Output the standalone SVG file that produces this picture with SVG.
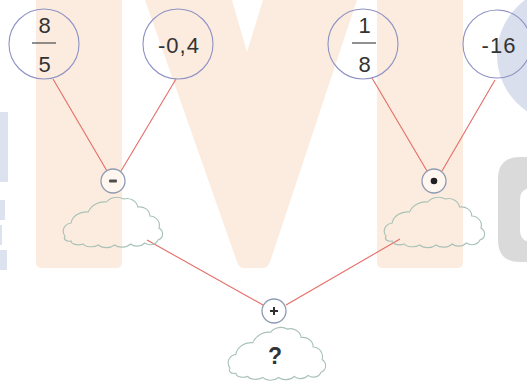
<svg xmlns="http://www.w3.org/2000/svg" xmlns:xlink="http://www.w3.org/1999/xlink" width="527" height="386" viewBox="0 0 527 386">
<style>
.wm-o{fill:#fcecdf}
.wm-b{fill:#dde3ee}
.wm-g{fill:#dadada}
.num{fill:none;stroke:#8e92c4;stroke-width:1.1}
.op{fill:#ffffff;fill-opacity:0.5;stroke:#8f9bb3;stroke-width:1.3}
.cloud{fill:none;stroke:#a9c2b6;stroke-width:1.1}
.edge{stroke:#e46c66;stroke-width:1.1;fill:none}
.t{font-family:"Liberation Sans",Arial,sans-serif;font-size:22px;fill:#333333;text-anchor:middle;letter-spacing:1px}
.bar{stroke:#555;stroke-width:1.3}
</style>
<defs>
<path id="cloudShape" d="M 3 40 C -1 35, 2 28, 9 27 C 10 20, 18 15, 26 16 C 29 9, 37 5, 44 6 C 48 1, 56 0, 61 3 C 67 1, 74 5, 75 11 C 81 10, 87 14, 87 20 C 93 20, 98 26, 96 32 C 101 35, 101 42, 95 44 C 93 49, 86 50, 82 47 C 78 51, 71 51, 68 48 C 64 52, 56 52, 52 49 C 47 53, 39 52, 36 49 C 31 52, 23 51, 21 48 C 15 50, 9 48, 9 45 C 4 46, 1 43, 3 40 Z"/>
</defs>
<rect width="527" height="386" fill="#ffffff"/>
<g id="watermark">
<path class="wm-o" d="M36 0 H122 V262 Q122 268 116 268 H42 Q36 268 36 262 Z"/>
<path class="wm-o" d="M145 0 H232 L247 52 L263 0 H357 L270 262 Q268 268 262 268 H244 Q239 268 237 262 Z"/>
<path class="wm-o" d="M377 0 H463 V262 Q463 268 457 268 H383 Q377 268 377 262 Z"/>
<rect class="wm-b" x="0" y="112" width="8" height="70"/>
<rect class="wm-b" x="0" y="200" width="5" height="20"/>
<rect class="wm-b" x="0" y="225" width="2" height="20"/>
<rect class="wm-b" x="0" y="250" width="7" height="20"/>
<circle cx="565" cy="55" r="68" fill="#d9dfec"/>
<path class="wm-g" fill-rule="evenodd" d="M520 157 H545 V262 H520 Q498 262 498 240 V179 Q498 157 520 157 Z M532 188 H545 V242 H532 Q520 242 520 230 V200 Q520 188 532 188 Z"/>
</g>
<g id="connectors">
<line class="edge" x1="53" y1="79" x2="107" y2="171"/>
<line class="edge" x1="176" y1="79" x2="121" y2="171"/>
<line class="edge" x1="372" y1="78" x2="427" y2="171"/>
<line class="edge" x1="495" y1="80" x2="442" y2="171"/>
<line class="edge" x1="147" y1="240" x2="263" y2="305"/>
<line class="edge" x1="400" y1="239" x2="286" y2="305"/>
</g>
<g id="n-8-5">
<circle class="num" cx="44" cy="44" r="35"/>
<text class="t" x="45" y="33">8</text>
<line class="bar" x1="32" y1="43" x2="56" y2="43"/>
<text class="t" x="45" y="72">5</text>
</g>
<g id="n-0-4">
<circle class="num" cx="178" cy="44" r="35"/>
<text class="t" x="179" y="53">-0,4</text>
</g>
<g id="n-1-8">
<circle class="num" cx="363" cy="44" r="35"/>
<text class="t" x="365" y="33">1</text>
<line class="bar" x1="352" y1="43" x2="376" y2="43"/>
<text class="t" x="365" y="72">8</text>
</g>
<g id="n-16">
<circle class="num" cx="497" cy="44" r="34"/>
<text class="t" x="499" y="53">-16</text>
</g>
<g id="op-minus">
<circle class="op" cx="113" cy="181" r="12"/>
<rect x="109" y="179.5" width="8" height="3" rx="1" fill="#505050"/>
</g>
<g id="op-times">
<circle class="op" cx="434" cy="181" r="12"/>
<circle cx="434" cy="181" r="3.3" fill="#202020"/>
</g>
<g id="op-plus">
<circle class="op" cx="274" cy="311" r="12"/>
<path d="M270 311 H278 M274 307 V315" stroke="#303030" stroke-width="2"/>
</g>
<g id="cloud-left">
<use xlink:href="#cloudShape" class="cloud" transform="translate(62,196) scale(1.01,1)"/>
</g>
<g id="cloud-right">
<use xlink:href="#cloudShape" class="cloud" transform="translate(383,196) scale(1.02,1)"/>
</g>
<g id="cloud-result">
<use xlink:href="#cloudShape" class="cloud" transform="translate(227,326) scale(0.99,1.05)"/>
<text x="275" y="364" font-family="Liberation Sans,Arial,sans-serif" font-size="23" font-weight="bold" fill="#333333" text-anchor="middle">?</text>
</g>
</svg>
